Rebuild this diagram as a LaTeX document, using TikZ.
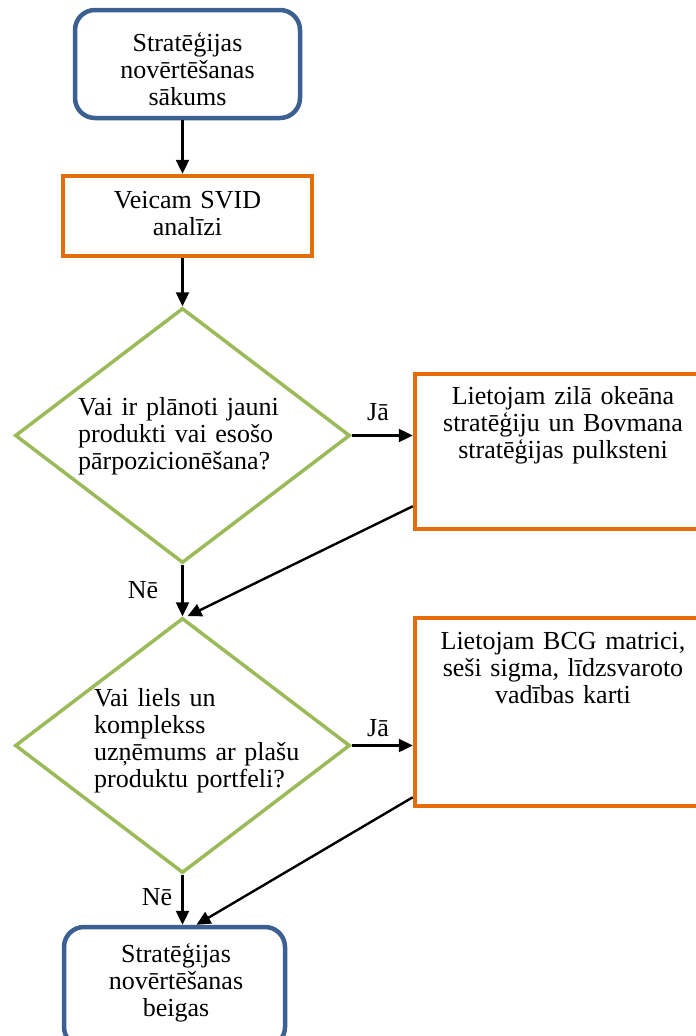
\documentclass[tikz,border=0pt]{standalone}
\usepackage{fontspec}
\setmainfont{Liberation Serif}
\usetikzlibrary{shapes.geometric,arrows.meta}

\definecolor{termblue}{RGB}{60,96,145}
\definecolor{procorange}{RGB}{228,108,10}
\definecolor{decgreen}{RGB}{155,187,89}

\tikzset{
  txt/.style={font=\fontsize{26}{27}\selectfont, inner sep=0pt, anchor=base},
  ctxt/.style={txt, text width=290pt, align=center},
  ltxt/.style={txt, anchor=base west, text width=270pt, align=left},
  termbox/.style={rectangle, draw=termblue, line width=4.5pt, rounded corners=20pt, fill=white, inner sep=0pt},
  procbox/.style={rectangle, draw=procorange, line width=4.5pt, fill=white, inner sep=0pt},
  decision/.style={diamond, draw=decgreen, line width=3.5pt, fill=white, inner sep=0pt},
  flow/.style={line width=2.4pt, -{Triangle[length=14pt,width=13pt]}},
}

\begin{document}
\begin{tikzpicture}[x=1pt,y=-1pt]
\useasboundingbox (0,0) rectangle (696,1036);
\clip (0,0) rectangle (696,1036);
\fill[white] (0,0) rectangle (696,1036);

% shapes
\node[termbox, minimum width=225pt, minimum height=108pt] (start) at (187.5,64) {};
\node[procbox, minimum width=249pt, minimum height=80pt] (svid) at (187.5,216) {};
\node[decision, minimum width=335pt, minimum height=255pt] (d1) at (182.5,435.5) {};
\node[procbox, minimum width=297pt, minimum height=155pt] (r1) at (563.5,451.5) {};
\node[decision, minimum width=335pt, minimum height=255pt] (d2) at (182.5,745.5) {};
\node[procbox, minimum width=297pt, minimum height=188pt] (r2) at (563.5,712) {};
\node[termbox, minimum width=221pt, minimum height=120pt] (finish) at (174.5,987) {};

% texts
\node[ctxt] (startt) at (187.5,51) {Stratēģijas\\novērtēšanas\\sākums};
\node[ctxt] (svidt) at (187.5,208) {Veicam SVID\\analīzi};
\node[ltxt] (d1t) at (78,415) {Vai ir plānoti jauni\\produkti vai esošo\\pārpozicionēšana?};
\node[ctxt] (r1t) at (563,404) {Lietojam zilā okeāna\\stratēģiju un Bovmana\\stratēģijas pulksteni};
\node[ltxt] (d2t) at (94,706) {Vai liels un\\komplekss\\uzņēmums ar plašu\\produktu portfeli?};
\node[ctxt] (r2t) at (563,649) {Lietojam BCG matrici,\\seši sigma, līdzsvaroto\\vadības karti};
\node[ctxt] (finisht) at (176,962) {Stratēģijas\\novērtēšanas\\beigas};

% branch labels
\node[txt] (ja1) at (378,420) {Jā};
\node[txt] (ne1) at (143,598) {Nē};
\node[txt] (ja2) at (378,736) {Jā};
\node[txt] (ne2) at (157,905) {Nē};

% connectors
\draw[flow] ([xshift=-5pt]start.south) -- ([xshift=-5pt]svid.north);
\draw[flow] (svid.south -| d1.north) -- (d1.north);
\draw[flow] (d1.east) -- (d1.east -| r1.west);
\draw[flow] (d1.south) -- (d2.north);
\draw[flow] ([yshift=25pt]r1.south west) -- ([xshift=5pt]d2.north);
\draw[flow] (d2.east) -- (d2.east -| r2.west);
\draw[flow] (d2.south) -- (d2.south |- finish.north);
\draw[flow] ([yshift=11pt]r2.south west) -- ([xshift=22pt]finish.north);
\end{tikzpicture}
\end{document}
